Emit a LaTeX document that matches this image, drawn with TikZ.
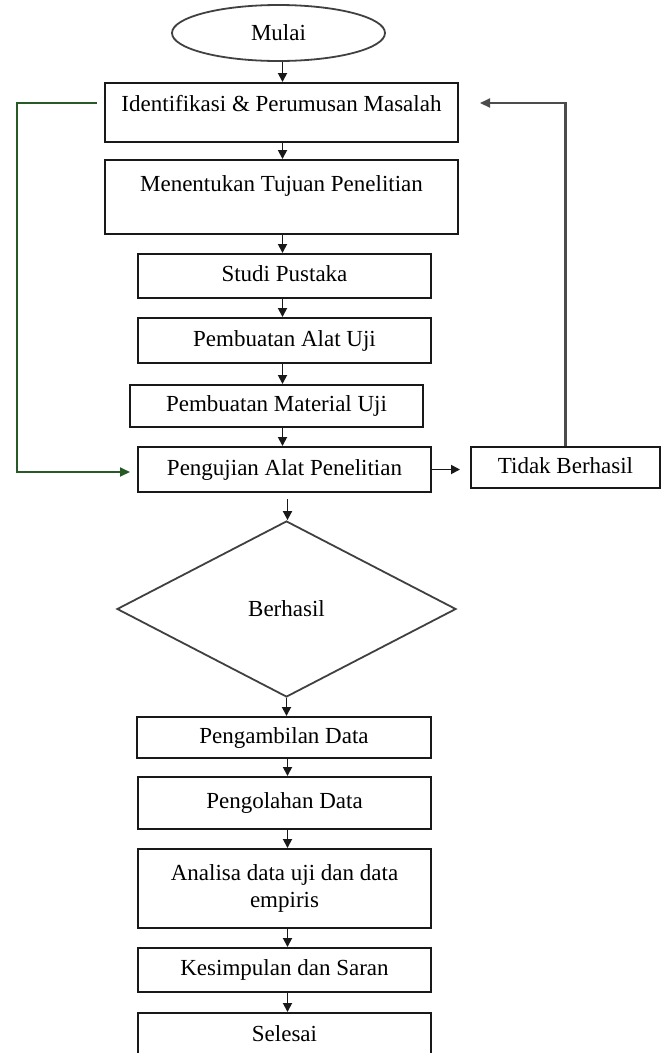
\documentclass[tikz,border=0pt]{standalone}
\usepackage{fontspec}
\setmainfont{Liberation Serif}
\usetikzlibrary{shapes.geometric,arrows.meta}
\definecolor{lgreen}{RGB}{40,90,40}
\definecolor{lline}{RGB}{25,25,25}
\begin{document}
\begin{tikzpicture}[x=1pt,y=-1pt,
  every node/.style={font=\fontsize{23}{27}\selectfont, inner sep=0pt},
  box/.style={draw=lline, line width=2pt, rectangle},
  one/.style={text height=16pt, text depth=5pt},
  arr/.style={draw=lline, line width=1.8pt, -{Triangle[length=9pt,width=9pt]}},
  garr/.style={draw=lgreen, line width=2pt, -{Triangle[length=10pt,width=9pt]}},
  rarr/.style={draw=black!70, line width=2.2pt, -{Triangle[length=10pt,width=9pt]}}
]
\useasboundingbox (0,0) rectangle (661,1053);

\node[ellipse, draw=black!75, line width=1.8pt, minimum width=213pt, minimum height=56pt] (mulai) at (278.5,33) {Mulai};

\node[box, anchor=north, minimum width=353pt, text height=28pt, text depth=31pt] (ident) at (281.5,82) {Identifikasi \& Perumusan Masalah};
\node[box, anchor=north, minimum width=353pt, text height=31pt, text depth=43pt] (ment) at (281.5,159) {Menentukan Tujuan Penelitian};
\node[box, one, minimum width=293pt, minimum height=44pt] (studi) at (284.5,276) {Studi Pustaka};
\node[box, one, minimum width=293pt, minimum height=45pt] (alat) at (284.5,340.5) {Pembuatan Alat Uji};
\node[box, one, minimum width=293pt, minimum height=42pt] (mat) at (276.5,406) {Pembuatan Material Uji};
\node[box, one, minimum width=293pt, minimum height=45pt] (uji) at (284.5,469.5) {Pengujian Alat Penelitian};
\node[box, one, minimum width=189pt, minimum height=41pt] (tidak) at (565.5,467.5) {Tidak Berhasil};

\node[diamond, draw=black!75, line width=1.8pt, minimum width=339pt, minimum height=176pt] (dia) at (286.5,609) {Berhasil};

\node[box, one, minimum width=294pt, minimum height=41pt] (ambil) at (284,737.5) {Pengambilan Data};
\node[box, one, minimum width=293pt, minimum height=52pt] (olah) at (284.5,803) {Pengolahan Data};
\node[box, align=center, minimum width=293pt, minimum height=79pt] (anal) at (284.5,888.5) {Analisa data uji dan data\\empiris};
\node[box, one, minimum width=293pt, minimum height=44pt] (simp) at (284.5,970) {Kesimpulan dan Saran};
\node[box, anchor=north, minimum width=293pt, text height=28pt, text depth=22pt] (sel) at (284.5,1012) {Selesai};

\coordinate (c1) at (282.5,0);
\coordinate (c2) at (287.5,0);
\draw[arr] (mulai.south -| c1) -- (ident.north -| c1);
\draw[arr] (ident.south -| c1) -- (ment.north -| c1);
\draw[arr] (ment.south -| c1) -- (studi.north -| c1);
\draw[arr] (studi.south -| c1) -- (alat.north -| c1);
\draw[arr] (alat.south -| c1) -- (mat.north -| c1);
\draw[arr] (mat.south -| c1) -- (uji.north -| c1);
\draw[arr, shorten <=6pt] (uji.south -| c2) -- (dia.north -| c2);
\draw[arr] (dia.south) -- (dia.south |- ambil.north);
\draw[arr] (ambil.south -| c2) -- (olah.north -| c2);
\draw[arr] (olah.south -| c2) -- (anal.north -| c2);
\draw[arr] (anal.south -| c2) -- (simp.north -| c2);
\draw[arr] (simp.south -| c2) -- (sel.north -| c2);

\draw[arr, shorten >=10pt] (uji.east) -- (uji.east -| tidak.west);

\coordinate (rtip) at (480,103);
\draw[rarr] (tidak.north) |- (rtip);

\coordinate (gstart) at (97,103);
\coordinate (gleft) at (17,472);
\coordinate (gend) at (130,472);
\draw[garr] (gstart) -| (gleft) -- (gend);
\end{tikzpicture}
\end{document}
